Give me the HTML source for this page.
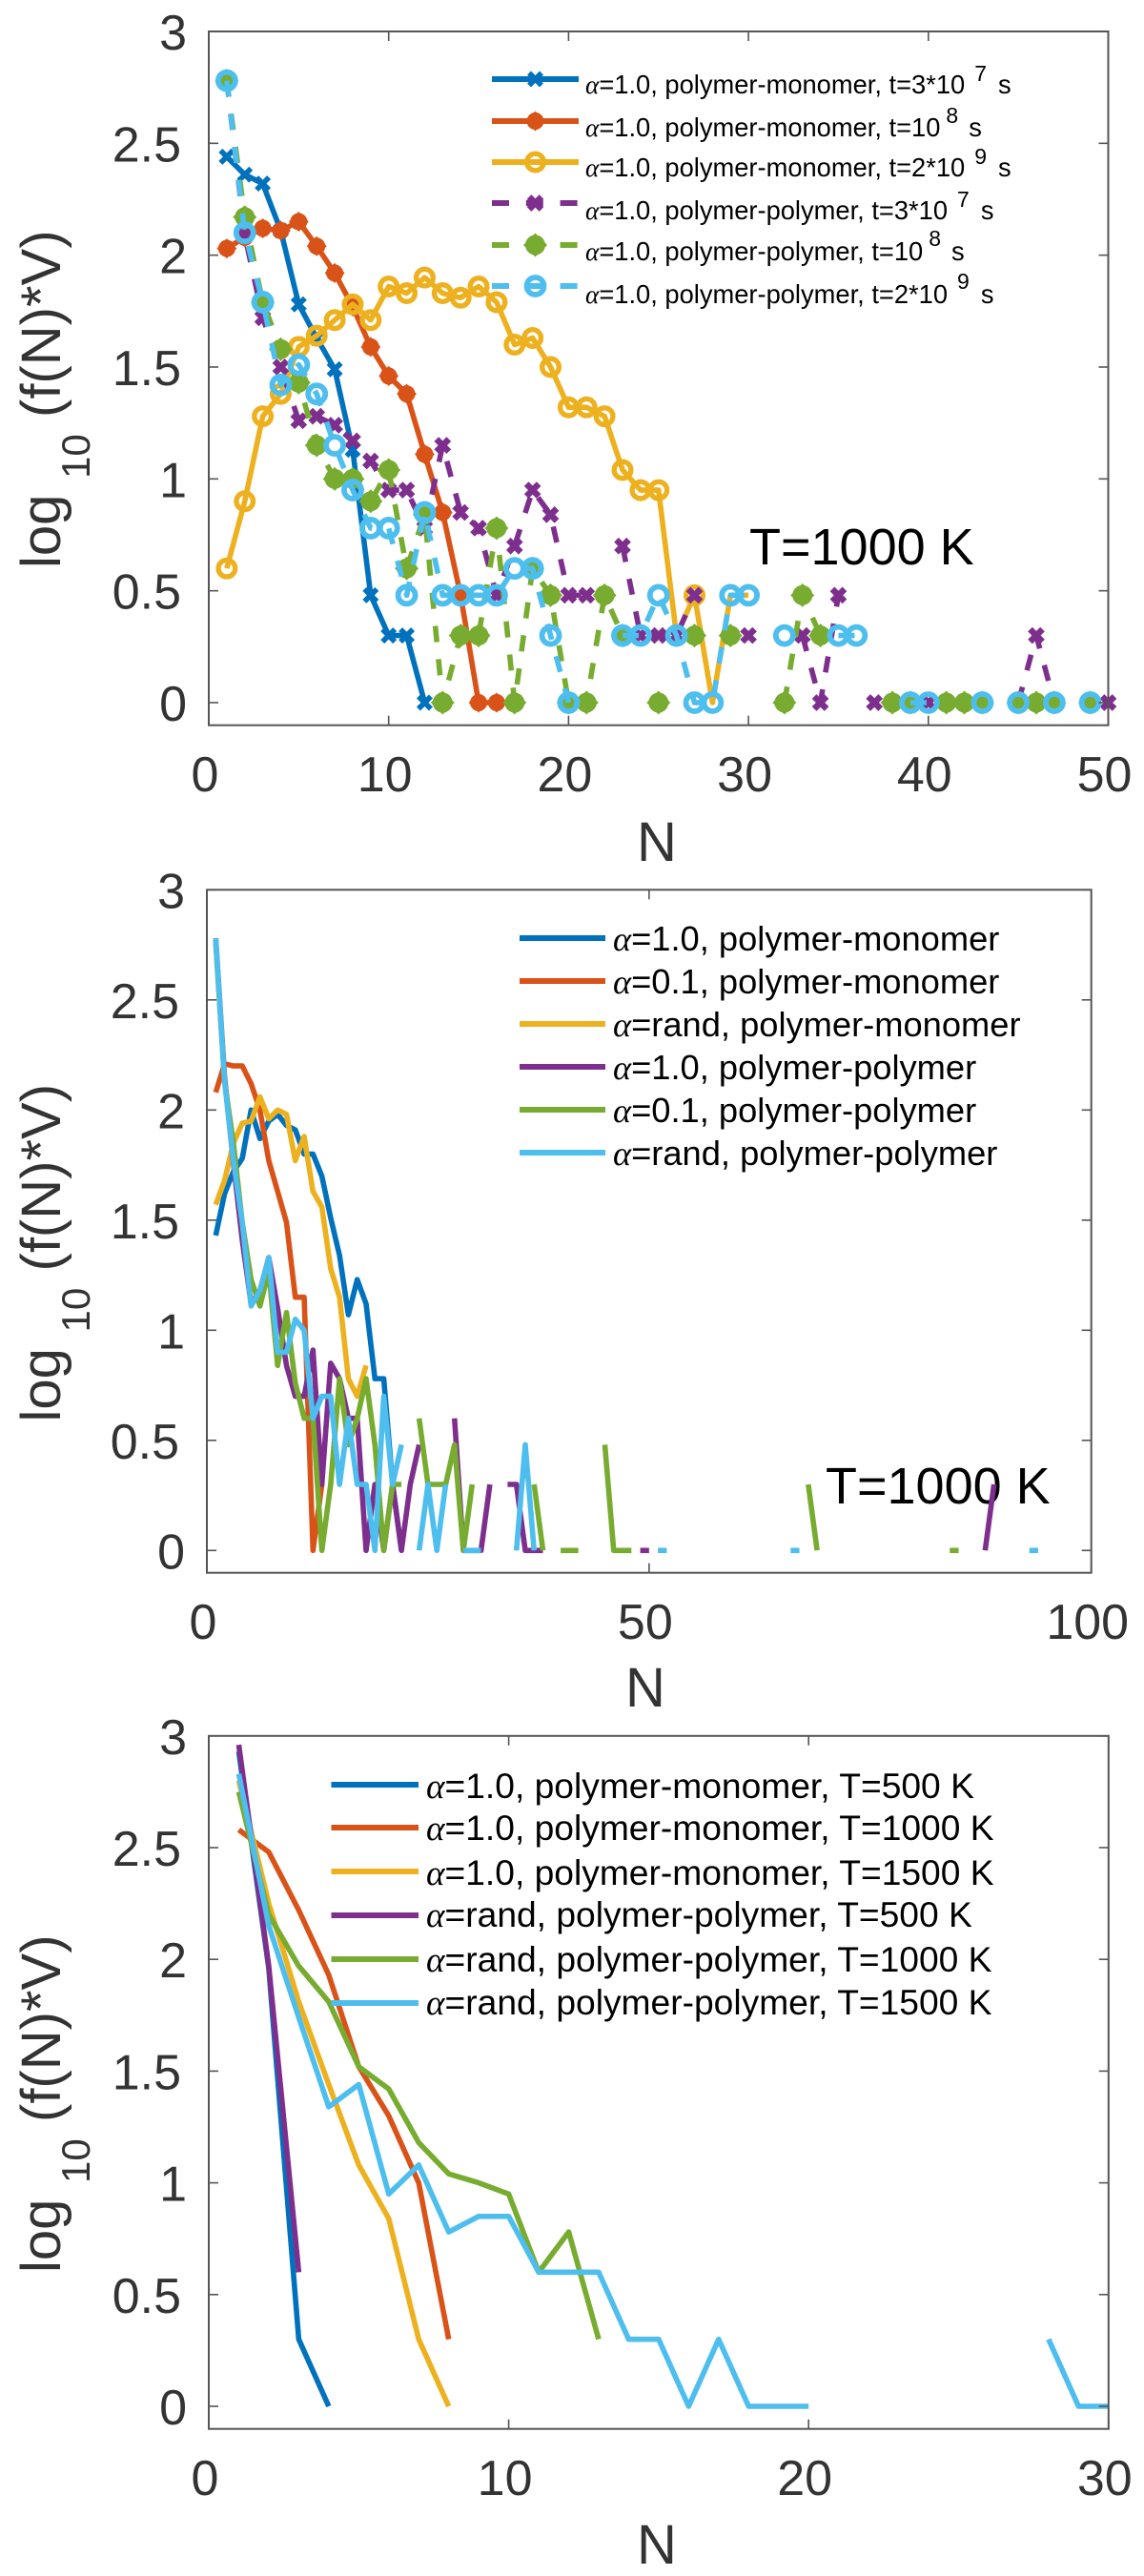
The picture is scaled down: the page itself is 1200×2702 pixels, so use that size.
<!DOCTYPE html>
<html lang="en">
<head>
<meta charset="utf-8">
<title>Polymer size distributions</title>
<style>
html,body{margin:0;padding:0;background:#fff;}
svg{display:block;}
text{font-family:"Liberation Sans",sans-serif;}
.lg{font-size:27.3px;fill:#000;}
.lg2{font-size:36.3px;fill:#000;}
.lg3{font-size:37.2px;fill:#000;}
.a{font-family:"Liberation Serif",serif;font-style:italic;}
.ann{font-size:54px;fill:#000;}
.yl{font-size:58px;fill:#333;}
.ys{font-size:42px;fill:#333;}
</style>
</head>
<body>
<svg id="fig" xmlns="http://www.w3.org/2000/svg" width="1200" height="2702" viewBox="0 0 1200 2702">
<rect width="1200" height="2702" fill="#fff"/>

<g>
<text class="yl" transform="translate(63,596) rotate(-90)">log</text>
<text class="ys" transform="translate(94,502) rotate(-90)">10</text>
<text class="yl" transform="translate(63,438) rotate(-90)">(f(N)*V)</text>
</g>
<g>
<text class="yl" transform="translate(63,1491.5) rotate(-90)">log</text>
<text class="ys" transform="translate(94,1397.5) rotate(-90)">10</text>
<text class="yl" transform="translate(63,1333.5) rotate(-90)">(f(N)*V)</text>
</g>
<g>
<text class="yl" transform="translate(63,2384) rotate(-90)">log</text>
<text class="ys" transform="translate(94,2290) rotate(-90)">10</text>
<text class="yl" transform="translate(63,2226) rotate(-90)">(f(N)*V)</text>
</g>

<text class="yl" x="689" y="903" text-anchor="middle">N</text>
<text class="yl" x="677" y="1790" text-anchor="middle">N</text>
<text class="yl" x="689" y="2689" text-anchor="middle">N</text>

<text class="ann" x="786" y="592">T=1000 K</text>
<text class="ann" x="866" y="1577">T=1000 K</text>

<g id="panel1"></g>
<g id="panel2"></g>
<g id="panel3"></g>

<g>
<text class="lg" x="614" y="98"><tspan class="a">α</tspan>=1.0, polymer-monomer, t=3*10<tspan dx="10" dy="-13" font-size="23">7</tspan><tspan dx="12" dy="13">s</tspan></text>
<text class="lg" x="614" y="143"><tspan class="a">α</tspan>=1.0, polymer-monomer, t=10<tspan dx="6" dy="-14" font-size="23">8</tspan><tspan dx="11" dy="14">s</tspan></text>
<text class="lg" x="614" y="185"><tspan class="a">α</tspan>=1.0, polymer-monomer, t=2*10<tspan dx="10" dy="-13" font-size="23">9</tspan><tspan dx="12" dy="13">s</tspan></text>
<text class="lg" x="614" y="230"><tspan class="a">α</tspan>=1.0, polymer-polymer, t=3*10<tspan dx="10" dy="-13" font-size="23">7</tspan><tspan dx="12" dy="13">s</tspan></text>
<text class="lg" x="614" y="273"><tspan class="a">α</tspan>=1.0, polymer-polymer, t=10<tspan dx="6" dy="-15" font-size="23">8</tspan><tspan dx="11" dy="15">s</tspan></text>
<text class="lg" x="614" y="318"><tspan class="a">α</tspan>=1.0, polymer-polymer, t=2*10<tspan dx="10" dy="-15" font-size="23">9</tspan><tspan dx="12" dy="15">s</tspan></text>
</g>
<g>
<text class="lg2" x="643" y="997"><tspan class="a">α</tspan>=1.0, polymer-monomer</text>
<text class="lg2" x="643" y="1042"><tspan class="a">α</tspan>=0.1, polymer-monomer</text>
<text class="lg2" x="643" y="1087"><tspan class="a">α</tspan>=rand, polymer-monomer</text>
<text class="lg2" x="643" y="1132"><tspan class="a">α</tspan>=1.0, polymer-polymer</text>
<text class="lg2" x="643" y="1177"><tspan class="a">α</tspan>=0.1, polymer-polymer</text>
<text class="lg2" x="643" y="1222"><tspan class="a">α</tspan>=rand, polymer-polymer</text>
</g>
<g>
<text class="lg3" x="447" y="1886"><tspan class="a">α</tspan>=1.0, polymer-monomer, T=500 K</text>
<text class="lg3" x="447" y="1930"><tspan class="a">α</tspan>=1.0, polymer-monomer, T=1000 K</text>
<text class="lg3" x="447" y="1977"><tspan class="a">α</tspan>=1.0, polymer-monomer, T=1500 K</text>
<text class="lg3" x="447" y="2021"><tspan class="a">α</tspan>=rand, polymer-polymer, T=500 K</text>
<text class="lg3" x="447" y="2068"><tspan class="a">α</tspan>=rand, polymer-polymer, T=1000 K</text>
<text class="lg3" x="447" y="2113"><tspan class="a">α</tspan>=rand, polymer-polymer, T=1500 K</text>
</g>
</svg>

<script>
/* ---------- shared tick labels ---------- */
const yTicks = [0, 0.5, 1, 1.5, 2, 2.5, 3];
const p1XTicks = [0, 10, 20, 30, 40, 50];
const p2XTicks = [0, 50, 100];
const p3XTicks = [0, 10, 20, 30];

/* ---------- top chart: N values and log10(f(N)*V) ---------- */
const p1BlueN = [1,2,3,4,5,6,7,8,9,10,11,12];
const p1BlueV = [2.44,2.36,2.32,2.11,1.78,1.63,1.49,1.13,0.48,0.30,0.30,0];
const p1OrangeN = [1,2,3,4,5,6,7,8,9,10,11,12,13,14,15,16];
const p1OrangeV = [2.03,2.08,2.12,2.11,2.15,2.04,1.92,1.77,1.59,1.46,1.38,1.11,0.85,0.48,0,0];
const p1YellowN = [1,2,3,4,5,6,7,8,9,10,11,12,13,14,15,16,17,18,19,20,21,22,23,24,25,26,27,28,29,30];
const p1YellowV = [0.60,0.90,1.28,1.38,1.59,1.64,1.71,1.78,1.71,1.86,1.83,1.90,1.83,1.81,1.86,1.79,1.60,1.63,1.50,1.32,1.32,1.28,1.04,0.95,0.95,0.30,0.48,0,0.48,0.48];
const p1PurpleN = [1,2,3,4,5,6,7,8,9,10,11,12,13,14,15,16,17,18,19,20,21,23,24,25,26,27,30,33,34,35,37,40,45,46,47,50];
const p1PurpleV = [2.78,2.09,1.72,1.50,1.26,1.28,1.24,1.17,1.08,0.95,0.95,0.78,1.15,0.85,0.78,0.48,0.70,0.95,0.84,0.48,0.48,0.70,0.30,0.30,0.30,0.48,0.30,0.30,0,0.48,0,0,0,0.30,0,0];
const p1GreenN = [1,2,3,4,5,6,7,8,9,10,11,12,13,14,15,16,17,18,19,20,21,22,23,25,27,29,32,33,34,38,39,41,42,43,45,46,47,49];
const p1GreenV = [2.78,2.17,1.79,1.58,1.43,1.15,1.00,1.00,0.90,1.04,0.60,0.84,0,0.30,0.30,0.78,0,0.60,0.48,0,0,0.48,0.30,0,0.30,0.30,0,0.48,0.30,0,0,0,0,0,0,0,0,0];
const p1CyanN = [1,2,3,4,5,6,7,8,9,10,11,12,13,14,15,16,17,18,19,20,23,24,25,26,27,28,29,30,32,35,36,39,40,43,45,47,49];
const p1CyanV = [2.78,2.10,1.79,1.42,1.51,1.38,1.15,0.95,0.78,0.78,0.48,0.85,0.48,0.48,0.48,0.48,0.60,0.60,0.30,0,0.30,0.30,0.48,0.30,0,0,0.48,0.48,0.30,0.30,0.30,0,0,0,0,0,0];

/* ---------- middle chart ---------- */
const p2BlueN = [1,2,3,4,5,6,7,8,9,10,11,12,13,14,15,16,17,18,19,20,21,22];
const p2BlueV = [1.43,1.62,1.72,1.78,2.00,1.87,1.95,1.98,1.93,1.91,1.80,1.80,1.70,1.51,1.34,1.07,1.23,1.12,0.78,0.78,0.30,0];
const p2OrangeN = [1,2,3,4,5,6,7,8,9,10,11,12,13];
const p2OrangeV = [2.08,2.21,2.20,2.20,2.12,2.00,1.77,1.63,1.49,1.15,1.15,0,0.30];
const p2YellowN = [1,2,3,4,5,6,7,8,9,10,11,12,13,14,15,16,17,18];
const p2YellowV = [1.57,1.68,1.85,1.94,1.95,2.06,1.96,2.00,1.98,1.77,1.88,1.63,1.56,1.28,1.15,0.78,0.70,0.84];
const p2PurpleN = [1,2,3,4,5,6,7,8,9,10,11,12,13,14,15,16,17,18,19,20,21,22,23,24,28,29,30,31,32,34,35,36,37,38,49,50,88,89];
const p2PurpleV = [2.78,2.15,1.76,1.41,1.12,1.18,1.33,1.10,0.84,0.70,0.70,0.91,0.30,0.85,0.78,0.60,0.60,0,0.30,0,0.30,0,0.30,0.48,0.60,0,0,0,0.30,0.30,0.30,0,0,0,0,0,0,0.30];
const p2GreenN = [1,2,3,4,5,6,7,8,9,10,11,12,13,14,15,16,17,18,19,20,21,22,24,25,26,27,28,29,30,37,38,40,41,42,45,46,47,48,68,69,84,85];
const p2GreenV = [2.76,2.13,1.85,1.49,1.23,1.11,1.27,0.84,1.08,0.76,0.60,0.60,0,0.30,0.78,0.48,0.60,0.78,0.48,0,0.30,0.30,0.60,0.30,0.30,0.30,0.48,0,0.30,0.30,0,0,0,0,0.48,0,0,0,0.30,0,0,0];
const p2CyanN = [1,2,3,4,5,6,7,8,9,10,11,12,13,14,15,16,17,18,19,20,21,22,24,25,26,27,29,30,31,35,36,37,51,52,66,67,93,94];
const p2CyanV = [2.78,2.13,1.77,1.49,1.11,1.18,1.33,0.90,0.90,1.05,1.00,0.60,0.70,0.70,0.30,0.60,0.30,0.30,0,0.70,0.30,0.48,0,0.30,0,0.30,0,0,0,0,0.48,0,0,0,0,0,0,0];

/* ---------- bottom chart ---------- */
const p3BlueN = [1,2,3,4];
const p3BlueV = [2.93,1.96,0.30,0];
const p3OrangeN = [1,2,3,4,5,6,7,8];
const p3OrangeV = [2.58,2.48,2.22,1.93,1.52,1.30,1.00,0.30];
const p3YellowN = [1,2,3,4,5,6,7,8];
const p3YellowV = [2.80,2.25,1.81,1.44,1.08,0.84,0.30,0];
const p3PurpleN = [1,2,3];
const p3PurpleV = [2.96,1.97,0.60];
const p3GreenN = [1,2,3,4,5,6,7,8,9,10,11,12,13];
const p3GreenV = [2.75,2.20,1.97,1.81,1.52,1.42,1.18,1.04,1.00,0.95,0.60,0.78,0.30];
const p3CyanN = [1,2,3,4,5,6,7,8,9,10,11,12,13,14,15,16,17,18,19,20,28,29,30];
const p3CyanV = [2.83,2.15,1.74,1.34,1.44,0.95,1.08,0.78,0.85,0.85,0.60,0.60,0.60,0.30,0.30,0,0.30,0,0,0,0.30,0,0];

const BLUE='#0072BD', ORANGE='#D95319', YELLOW='#EDB120', PURPLE='#7E2F8E', GREEN='#77AC30', CYAN='#4DBEEE';
const NS='http://www.w3.org/2000/svg';

function mk(parent, tag, attrs, name){
  const el=document.createElementNS(NS,tag);
  for(const k in attrs){el.setAttribute(k,attrs[k]);}
  
  
  parent.appendChild(el);
  return el;
}

function drawMarker(g, kind, color, cx, cy, name){
  if(kind==='x' || kind==='X'){
    const h=6.5, sw=(kind==='x')?5.6:6.6;
    mk(g,'path',{d:`M${cx-h} ${cy-h}L${cx+h} ${cy+h}M${cx-h} ${cy+h}L${cx+h} ${cy-h}`,stroke:color,'stroke-width':sw,fill:'none'},name);
  }else if(kind==='d' || kind==='D'){
    const r=(kind==='d')?9:10.5, R=(kind==='d')?10.5:12.5;
    mk(g,'path',{d:`M${cx} ${cy-R}L${cx+R} ${cy}L${cx} ${cy+R}L${cx-R} ${cy}Z`,fill:color},name);
    mk(g,'circle',{cx:cx,cy:cy,r:r,fill:color},name);
  }else if(kind==='o' || kind==='O'){
    mk(g,'circle',{cx:cx,cy:cy,r:(kind==='o')?8.8:9,fill:'none',stroke:color,'stroke-width':(kind==='o')?5.4:5.8},name);
  }
}

function drawPanel(p){
  const root=document.getElementById(p.id);
  const X=v=>p.x0+v*p.xk;
  const Y=v=>p.y0-v*p.yk;
  const L=p.x0, R=X(p.xmax), T=Y(3), B=p.bottom;

  const seriesG=mk(root,'g',{},p.key+'-series');
  p.series.forEach(s=>{
    const g=mk(seriesG,'g',{},s.name);
    /* consecutive N values form a connected run; a jump in N is a gap */
    let run=[];
    const flush=()=>{
      if(run.length>1){
        mk(g,'polyline',{points:run.map(q=>q.join(',')).join(' '),fill:'none',stroke:s.color,'stroke-width':p.lw,'stroke-linejoin':'round','stroke-dasharray':s.dash?'17 18':'none'},s.name+'-line');
      }
      run=[];
    };
    s.n.forEach((n,i)=>{
      if(i>0 && n!==s.n[i-1]+1){flush();}
      run.push([X(n),Y(s.v[i])]);
    });
    flush();
    if(s.marker){
      s.n.forEach((n,i)=>{
        drawMarker(g,s.marker,s.color,X(n),Y(s.v[i]),s.name+'-point');
      });
    }
  });

  const axG=mk(root,'g',{},p.key+'-axes');
  mk(axG,'rect',{x:L,y:T,width:R-L,height:B-T,fill:'none',stroke:'#555','stroke-width':2},p.key+'-axes-box');
  p.xTicks.forEach(t=>{
    const x=X(t);
    mk(axG,'line',{x1:x,x2:x,y1:B,y2:B-10,stroke:'#555','stroke-width':1.6},'x-tick-mark');
    mk(axG,'line',{x1:x,x2:x,y1:T,y2:T+10,stroke:'#555','stroke-width':1.6},'x-tick-mark-top');
    const lb=mk(axG,'text',{x:x-4,y:B+69.5,'text-anchor':'middle','font-size':52,fill:'#333'},'x-tick-label');
    lb.textContent=String(t);
  });
  yTicks.forEach(t=>{
    const y=Y(t);
    mk(axG,'line',{x1:L,x2:L+10,y1:y,y2:y,stroke:'#555','stroke-width':1.6},'y-tick-mark');
    mk(axG,'line',{x1:R,x2:R-10,y1:y,y2:y,stroke:'#555','stroke-width':1.6},'y-tick-mark-right');
    const isInt=Number.isInteger(t);
    const lb=mk(axG,'text',{x:L-(isInt?23:29),y:y+19,'text-anchor':'end','font-size':52,fill:'#333'},'y-tick-label');
    lb.textContent=String(t);
  });

  const legG=mk(root,'g',{},p.key+'-legend');
  p.series.forEach((s,i)=>{
    const y=p.legY[i];
    mk(legG,'line',{x1:p.legX[0],x2:p.legX[1],y1:y,y2:y,stroke:s.color,'stroke-width':p.lw+0.5,'stroke-dasharray':s.dash?'18 17.8':'none'},'legend-line');
    if(s.marker){
      drawMarker(legG,s.marker,s.color,(p.legX[0]+p.legX[1])/2,y,'legend-marker');
    }
  });
}

drawPanel({
  id:'panel1', key:'top', x0:219, xk:18.87, xmax:50, y0:737, yk:234.67, bottom:760.7, lw:5.6,
  xTicks:p1XTicks, legX:[516,607], legY:[83,127,170,213,257,300],
  series:[
    {name:'series-pm-3e7',color:BLUE,n:p1BlueN,v:p1BlueV,marker:'x'},
    {name:'series-pm-1e8',color:ORANGE,n:p1OrangeN,v:p1OrangeV,marker:'d'},
    {name:'series-pm-2e9',color:YELLOW,n:p1YellowN,v:p1YellowV,marker:'o'},
    {name:'series-pp-3e7',color:PURPLE,n:p1PurpleN,v:p1PurpleV,marker:'X',dash:true},
    {name:'series-pp-1e8',color:GREEN,n:p1GreenN,v:p1GreenV,marker:'D',dash:true},
    {name:'series-pp-2e9',color:CYAN,n:p1CyanN,v:p1CyanV,marker:'O',dash:true}
  ]
});
drawPanel({
  id:'panel2', key:'middle', x0:217, xk:9.277, xmax:100, y0:1626.3, yk:231, bottom:1649.7, lw:5.6,
  xTicks:p2XTicks, legX:[545,635], legY:[984,1029,1074,1119,1164,1209],
  series:[
    {name:'series-a1-pm',color:BLUE,n:p2BlueN,v:p2BlueV},
    {name:'series-a01-pm',color:ORANGE,n:p2OrangeN,v:p2OrangeV},
    {name:'series-arand-pm',color:YELLOW,n:p2YellowN,v:p2YellowV},
    {name:'series-a1-pp',color:PURPLE,n:p2PurpleN,v:p2PurpleV},
    {name:'series-a01-pp',color:GREEN,n:p2GreenN,v:p2GreenV},
    {name:'series-arand-pp',color:CYAN,n:p2CyanN,v:p2CyanV}
  ]
});
drawPanel({
  id:'panel3', key:'bottom', x0:219, xk:31.46, xmax:30, y0:2524, yk:234.4, bottom:2547.7, lw:5.6,
  xTicks:p3XTicks, legX:[347.5,439], legY:[1872,1917,1963,2009,2055,2101],
  series:[
    {name:'series-pm-500k',color:BLUE,n:p3BlueN,v:p3BlueV},
    {name:'series-pm-1000k',color:ORANGE,n:p3OrangeN,v:p3OrangeV},
    {name:'series-pm-1500k',color:YELLOW,n:p3YellowN,v:p3YellowV},
    {name:'series-pp-500k',color:PURPLE,n:p3PurpleN,v:p3PurpleV},
    {name:'series-pp-1000k',color:GREEN,n:p3GreenN,v:p3GreenV},
    {name:'series-pp-1500k',color:CYAN,n:p3CyanN,v:p3CyanV}
  ]
});
</script>
</body>
</html>
